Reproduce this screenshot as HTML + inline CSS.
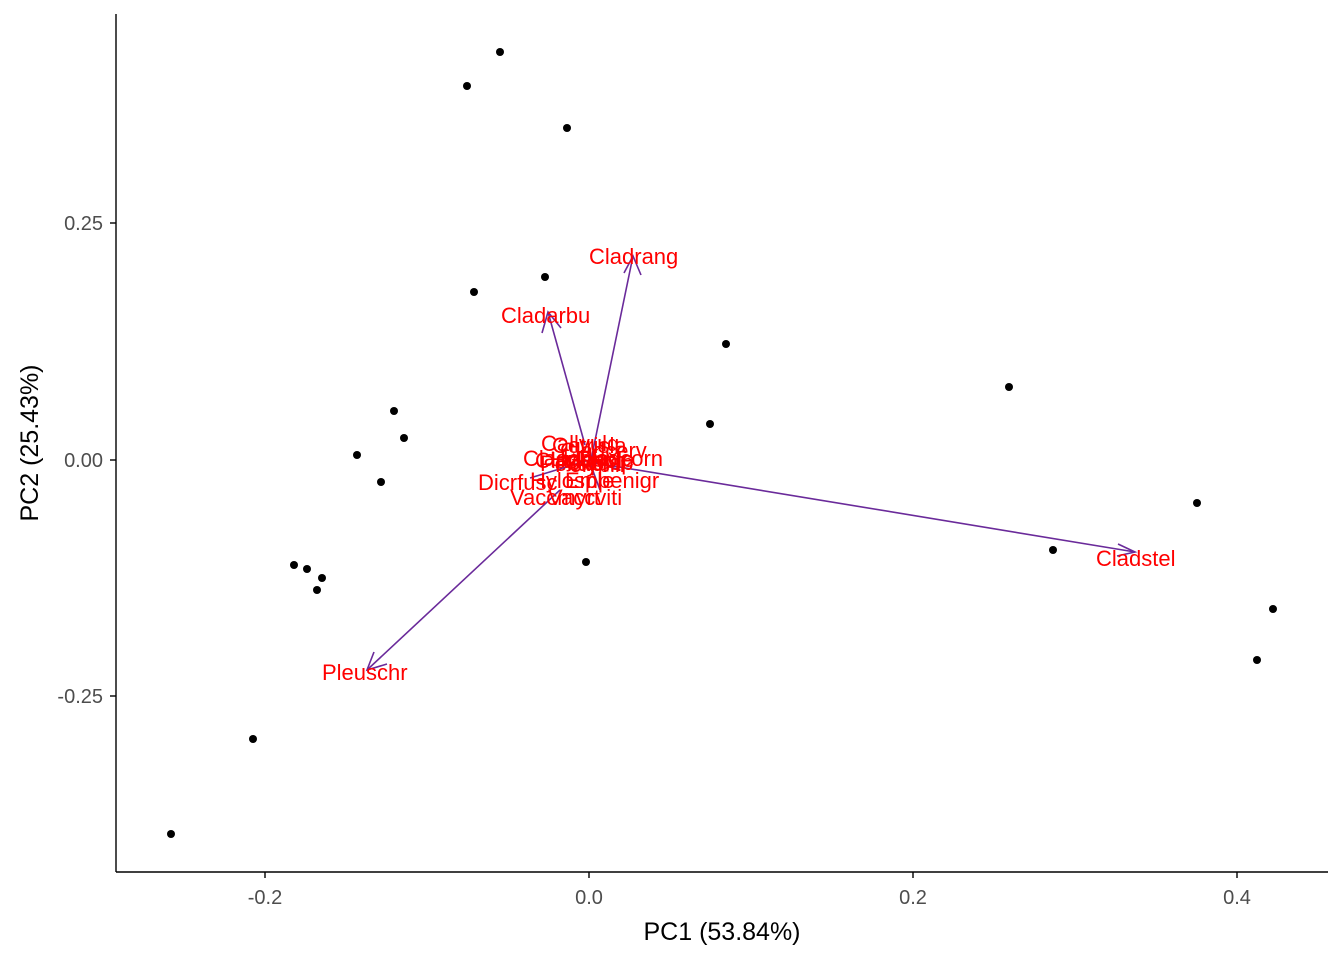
<!DOCTYPE html>
<html><head><style>body{margin:0;background:#fff}</style></head><body>
<svg width="1344" height="960" xmlns="http://www.w3.org/2000/svg" font-family="Liberation Sans, sans-serif">
<rect width="1344" height="960" fill="#fff"/>
<g stroke="#000" stroke-width="1.4">
<line x1="116" y1="14" x2="116" y2="872"/>
<line x1="116" y1="872" x2="1328" y2="872"/>
<line x1="110" y1="223" x2="116" y2="223"/><line x1="110" y1="460" x2="116" y2="460"/><line x1="110" y1="696" x2="116" y2="696"/>
<line x1="265" y1="872" x2="265" y2="878"/><line x1="589" y1="872" x2="589" y2="878"/><line x1="913" y1="872" x2="913" y2="878"/><line x1="1237" y1="872" x2="1237" y2="878"/>
</g>
<g font-size="20" fill="#4d4d4d">
<text x="103" y="230" text-anchor="end">0.25</text>
<text x="103" y="467" text-anchor="end">0.00</text>
<text x="103" y="703" text-anchor="end">-0.25</text>
<text x="265" y="904" text-anchor="middle">-0.2</text>
<text x="589" y="904" text-anchor="middle">0.0</text>
<text x="913" y="904" text-anchor="middle">0.2</text>
<text x="1237" y="904" text-anchor="middle">0.4</text>
</g>
<text x="722" y="940" font-size="25" text-anchor="middle">PC1 (53.84%)</text>
<text transform="translate(38,443) rotate(-90)" font-size="25" text-anchor="middle">PC2 (25.43%)</text>
<g fill="#000">
<circle cx="500" cy="52" r="4"/><circle cx="467" cy="86" r="4"/><circle cx="567" cy="128" r="4"/><circle cx="545" cy="277" r="4"/><circle cx="474" cy="292" r="4"/><circle cx="726" cy="344" r="4"/><circle cx="1009" cy="387" r="4"/><circle cx="394" cy="411" r="4"/><circle cx="710" cy="424" r="4"/><circle cx="404" cy="438" r="4"/><circle cx="357" cy="455" r="4"/><circle cx="381" cy="482" r="4"/><circle cx="1197" cy="503" r="4"/><circle cx="1053" cy="550" r="4"/><circle cx="586" cy="562" r="4"/><circle cx="294" cy="565" r="4"/><circle cx="307" cy="569" r="4"/><circle cx="322" cy="578" r="4"/><circle cx="317" cy="590" r="4"/><circle cx="1273" cy="609" r="4"/><circle cx="1257" cy="660" r="4"/><circle cx="253" cy="739" r="4"/><circle cx="171" cy="834" r="4"/>
</g>
<g stroke="#6a2a9a" stroke-width="1.6" fill="none">
<line x1="591" y1="460" x2="633" y2="256"/><polyline points="624,273 633,256 641,275"/>
<line x1="585" y1="445" x2="548" y2="312"/><polyline points="542,333 548,312 561,328"/>
<line x1="595" y1="463" x2="1135" y2="552"/><polyline points="1118,544 1135,552 1117,556"/>
<line x1="560" y1="490" x2="367" y2="670"/><polyline points="374,652 367,670 387,664"/>
<line x1="589" y1="460" x2="530" y2="478"/><line x1="589" y1="460" x2="600" y2="490"/><line x1="589" y1="460" x2="620" y2="470"/>
</g>
<g fill="#ff0000" font-size="22">
<text x="589" y="264">Cladrang</text>
<text x="501" y="323">Cladarbu</text>
<text x="1096" y="566">Cladstel</text>
<text x="322" y="680">Pleuschr</text>
<text x="541" y="451">Callvulg</text>
<text x="552" y="453">Cetrisla</text>
<text x="560" y="458">Cladcerv</text>
<text x="523" y="466">Cladchlo</text>
<text x="535" y="468">Cladunci</text>
<text x="550" y="467">Hylosple</text>
<text x="565" y="470">Cladsp</text>
<text x="575" y="466">Cladcorn</text>
<text x="540" y="471">Peltapht</text>
<text x="555" y="472">Polypili</text>
<text x="478" y="490">Dicrfusc</text>
<text x="530" y="488">Hylosple</text>
<text x="565" y="488">Empenigr</text>
<text x="510" y="505">Vaccmyrt</text>
<text x="548" y="505">Vaccviti</text>
</g>
</svg>
</body></html>
